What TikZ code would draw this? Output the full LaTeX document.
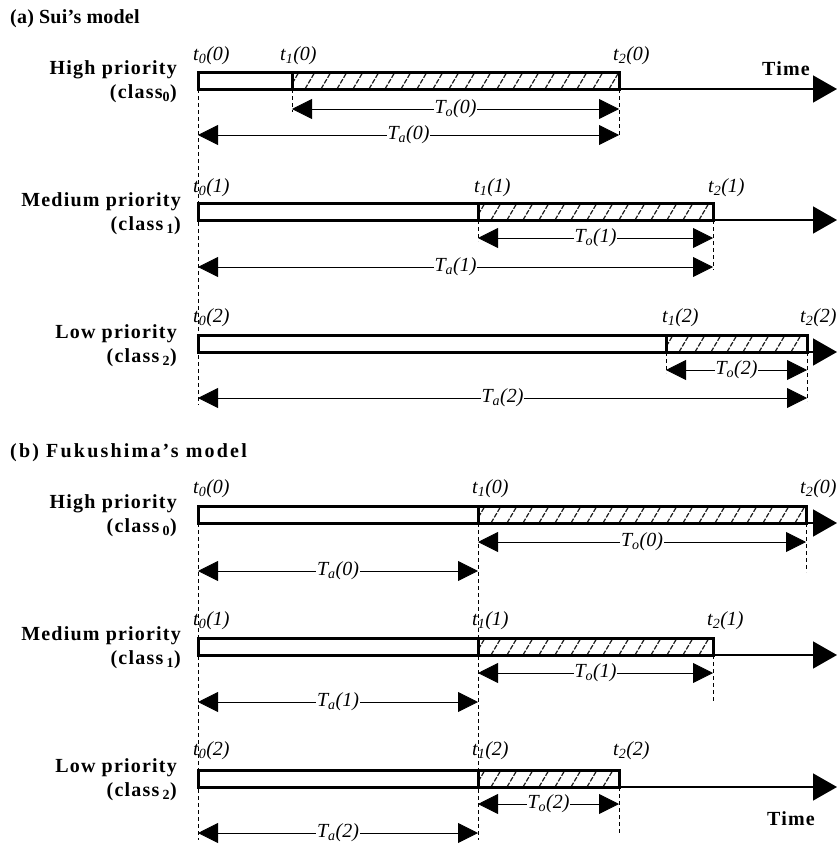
\documentclass[tikz,border=0pt]{standalone}
\usepackage{fontspec}
\setmainfont{Liberation Serif}
\newfontfamily\rowfont[LetterSpace=6]{Liberation Serif}
\usepackage{tikz}
\usetikzlibrary{arrows.meta,calc}

\tikzset{
  axisline/.style={line width=1.5pt, -{Triangle[length=24pt,width=27pt]}},
  dimline/.style={line width=0.8pt, {Triangle[length=20pt,width=20pt]}-{Triangle[length=20pt,width=20pt]}},
  dimlabel/.style={fill=white, inner sep=1pt, font=\itshape\fontsize{20}{20}\selectfont},
  guide/.style={line width=0.7pt, dash pattern=on 4pt off 3pt},
  waitbar/.style={draw, line width=3pt, fill=white},
  servebar/.style={draw, line width=3pt},
  hatchline/.style={line width=1.2pt, black!90, dash pattern=on 5pt off 1.5pt},
  tlabel/.style={anchor=base west, inner sep=0pt, font=\itshape\fontsize{20}{20}\selectfont},
  rowlabel/.style={anchor=east, align=right, inner sep=0pt, font=\rowfont\bfseries\fontsize{20}{24}\selectfont},
  paneltitle/.style={anchor=base west, inner sep=0pt, font=\rowfont\bfseries\fontsize{20}{20}\selectfont}
}

% slanted dashed strokes between two bottom corners of a bar
\newcommand{\hatchbar}[2]{%
  \begin{scope}
    \clip (#1) rectangle ($(#2)+(0,-17)$);
    \foreach \k in {0,...,21} \draw[hatchline] ($(#1)+(\k*16-3,0)$) -- ++(10,-17);
  \end{scope}
  \draw[servebar] (#1) rectangle ($(#2)+(0,-17)$);}

\begin{document}
\begin{tikzpicture}[x=1pt,y=-1pt]
    \useasboundingbox (0,0) rectangle (838,846);

    % (a) Sui's model
    \node[paneltitle] (titleA) at (10,23) {\addfontfeature{LetterSpace=1}(a) Sui’s model};

    \coordinate (a0s) at (198,89); \coordinate (a0o) at (292,89); \coordinate (a0e) at (619,89); \coordinate (a0x) at (837,89);
    \coordinate (a1s) at (198,220); \coordinate (a1o) at (478,220); \coordinate (a1e) at (713,220); \coordinate (a1x) at (837,220);
    \coordinate (a2s) at (198,352); \coordinate (a2o) at (666,352); \coordinate (a2e) at (807,352); \coordinate (a2x) at (837,352);

    \draw[axisline] (a0s) -- (a0x);
    \draw[waitbar] (a0s) rectangle ($(a0o)+(0,-17)$);
    \hatchbar{a0o}{a0e}
    \draw[axisline] (a1s) -- (a1x);
    \draw[waitbar] (a1s) rectangle ($(a1o)+(0,-17)$);
    \hatchbar{a1o}{a1e}
    \draw[axisline] (a2s) -- (a2x);
    \draw[waitbar] (a2s) rectangle ($(a2o)+(0,-17)$);
    \hatchbar{a2o}{a2e}

    \draw[guide] (a0s) -- ($(a2s)+(0,53)$);
    \draw[guide] (a0o) -- ++(0,23); \draw[guide] (a0e) -- ++(0,49);
    \draw[guide] (a1o) -- ++(0,21); \draw[guide] (a1e) -- ++(0,50);
    \draw[guide] (a2o) -- ++(0,21); \draw[guide] (a2e) -- ++(0,49);

    \draw[dimline] ($(a0o)+(0,20)$) -- node[dimlabel] (a0To) {T\textsubscript{o}(0)} ($(a0e)+(0,20)$);
    \draw[dimline] ($(a0s)+(0,46)$) -- node[dimlabel] (a0Ta) {T\textsubscript{a}(0)} ($(a0e)+(0,46)$);
    \draw[dimline] ($(a1o)+(0,18)$) -- node[dimlabel] (a1To) {T\textsubscript{o}(1)} ($(a1e)+(0,18)$);
    \draw[dimline] ($(a1s)+(0,47)$) -- node[dimlabel] (a1Ta) {T\textsubscript{a}(1)} ($(a1e)+(0,47)$);
    \draw[dimline] ($(a2o)+(0,18)$) -- node[dimlabel] (a2To) {T\textsubscript{o}(2)} ($(a2e)+(0,18)$);
    \draw[dimline] ($(a2s)+(0,46)$) -- node[dimlabel] (a2Ta) {T\textsubscript{a}(2)} ($(a2e)+(0,46)$);

    \node[tlabel] (a0t0) at (193,60) {t\textsubscript{0}(0)};
    \node[tlabel] (a0t1) at (280,60) {t\textsubscript{1}(0)};
    \node[tlabel] (a0t2) at (613,60) {t\textsubscript{2}(0)};
    \node[tlabel] (a1t0) at (193,192) {t\textsubscript{0}(1)};
    \node[tlabel] (a1t1) at (474,192) {t\textsubscript{1}(1)};
    \node[tlabel] (a1t2) at (708,192) {t\textsubscript{2}(1)};
    \node[tlabel] (a2t0) at (193,322) {t\textsubscript{0}(2)};
    \node[tlabel] (a2t1) at (662,322) {t\textsubscript{1}(2)};
    \node[tlabel] (a2t2) at (800,322) {t\textsubscript{2}(2)};

    \node[rowlabel] (a0name) at (177,82) {High priority\\(class\textsubscript{0})};
    \node[rowlabel] (a1name) at (181,214) {Medium priority\\(class\,\textsubscript{1})};
    \node[rowlabel] (a2name) at (177,346) {Low priority\\(class\,\textsubscript{2})};
    \node[paneltitle] (timeA) at (762,75) {Time};

    % (b) Fukushima's model
    \node[paneltitle] (titleB) at (10,457) {\addfontfeature{LetterSpace=11}(b) Fukushima’s model};

    \coordinate (b0s) at (198,523); \coordinate (b0o) at (478,523); \coordinate (b0e) at (806,523); \coordinate (b0x) at (837,523);
    \coordinate (b1s) at (198,655); \coordinate (b1o) at (478,655); \coordinate (b1e) at (713,655); \coordinate (b1x) at (837,655);
    \coordinate (b2s) at (198,787); \coordinate (b2o) at (478,787); \coordinate (b2e) at (619,787); \coordinate (b2x) at (837,787);

    \draw[axisline] (b0s) -- (b0x);
    \draw[waitbar] (b0s) rectangle ($(b0o)+(0,-17)$);
    \hatchbar{b0o}{b0e}
    \draw[axisline] (b1s) -- (b1x);
    \draw[waitbar] (b1s) rectangle ($(b1o)+(0,-17)$);
    \hatchbar{b1o}{b1e}
    \draw[axisline] (b2s) -- (b2x);
    \draw[waitbar] (b2s) rectangle ($(b2o)+(0,-17)$);
    \hatchbar{b2o}{b2e}

    \draw[guide] (b0s) -- ($(b2s)+(0,53)$);
    \draw[guide] (b0o) -- ($(b2o)+(0,53)$);
    \draw[guide] (b0e) -- ++(0,49);
    \draw[guide] (b1e) -- ++(0,46);
    \draw[guide] (b2e) -- ++(0,47);

    \draw[dimline] ($(b0o)+(0,19)$) -- node[dimlabel] (b0To) {T\textsubscript{o}(0)} ($(b0e)+(0,19)$);
    \draw[dimline] ($(b0s)+(0,48)$) -- node[dimlabel] (b0Ta) {T\textsubscript{a}(0)} ($(b0o)+(0,48)$);
    \draw[dimline] ($(b1o)+(0,18)$) -- node[dimlabel] (b1To) {T\textsubscript{o}(1)} ($(b1e)+(0,18)$);
    \draw[dimline] ($(b1s)+(0,47)$) -- node[dimlabel] (b1Ta) {T\textsubscript{a}(1)} ($(b1o)+(0,47)$);
    \draw[dimline] ($(b2o)+(0,17)$) -- node[dimlabel] (b2To) {T\textsubscript{o}(2)} ($(b2e)+(0,17)$);
    \draw[dimline] ($(b2s)+(0,46)$) -- node[dimlabel] (b2Ta) {T\textsubscript{a}(2)} ($(b2o)+(0,46)$);

    \node[tlabel] (b0t0) at (193,493) {t\textsubscript{0}(0)};
    \node[tlabel] (b0t1) at (472,493) {t\textsubscript{1}(0)};
    \node[tlabel] (b0t2) at (800,493) {t\textsubscript{2}(0)};
    \node[tlabel] (b1t0) at (193,625) {t\textsubscript{0}(1)};
    \node[tlabel] (b1t1) at (472,625) {t\textsubscript{1}(1)};
    \node[tlabel] (b1t2) at (707,625) {t\textsubscript{2}(1)};
    \node[tlabel] (b2t0) at (193,755) {t\textsubscript{0}(2)};
    \node[tlabel] (b2t1) at (472,755) {t\textsubscript{1}(2)};
    \node[tlabel] (b2t2) at (613,755) {t\textsubscript{2}(2)};

    \node[rowlabel] (b0name) at (177,516) {High priority\\(class\,\textsubscript{0})};
    \node[rowlabel] (b1name) at (181,648) {Medium priority\\(class\,\textsubscript{1})};
    \node[rowlabel] (b2name) at (177,780) {Low priority\\(class\,\textsubscript{2})};
    \node[paneltitle] (timeB) at (767,825) {Time};
\end{tikzpicture}
\end{document}
